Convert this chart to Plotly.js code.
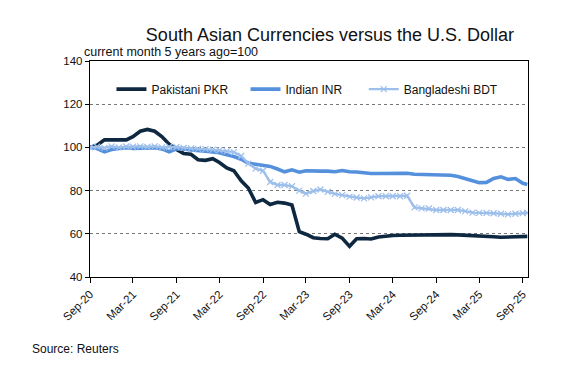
<!DOCTYPE html>
<html>
<head>
<meta charset="utf-8">
<script src="https://cdn.plot.ly/plotly-3.0.1.min.js"></script>
<style>html,body{margin:0;padding:0;background:#fff;}#chart{width:584px;height:378px;}</style>
</head>
<body>
<div id="chart"></div>
<script>
var dates = [
 '2020-09-01','2020-10-01','2020-11-01','2020-12-01',
 '2021-01-01','2021-02-01','2021-03-01','2021-04-01','2021-05-01','2021-06-01','2021-07-01','2021-08-01','2021-09-01','2021-10-01','2021-11-01','2021-12-01',
 '2022-01-01','2022-02-01','2022-03-01','2022-04-01','2022-05-01','2022-06-01','2022-07-01','2022-08-01','2022-09-01','2022-10-01','2022-11-01','2022-12-01',
 '2023-01-01','2023-02-01','2023-03-01','2023-04-01','2023-05-01','2023-06-01','2023-07-01','2023-08-01','2023-09-01','2023-10-01','2023-11-01','2023-12-01',
 '2024-01-01','2024-02-01','2024-03-01','2024-04-01','2024-05-01','2024-06-01','2024-07-01','2024-08-01','2024-09-01','2024-10-01','2024-11-01','2024-12-01',
 '2025-01-01','2025-02-01','2025-03-01','2025-04-01','2025-05-01','2025-06-01','2025-07-01','2025-08-01','2025-09-01','2025-09-20'
];
var pkr = [100,101,103.5,103.5,103.5,103.5,105,107.5,108.3,107.5,105,101.5,99,97.2,96.8,94.3,
 94,94.8,93,90.5,89.2,84.5,81.2,74.5,75.8,73.6,74.6,74.2,73.3,61,59.8,58.2,
 57.8,57.7,59.8,58,54.2,57.7,57.8,57.6,58.5,59,59.2,59.3,59.4,59.4,59.5,59.5,
 59.5,59.6,59.6,59.5,59.4,59.2,59,58.8,58.6,58.4,58.4,58.5,58.8,58.8];
var inr = [100,99.5,98,99,99.5,99.8,99.5,99.6,99.5,99.8,99.3,98,99.3,99.3,98.8,98.7,
 98.2,97.9,97.5,96.6,95.8,94.5,92.7,92.2,91.7,91.2,90,88.7,89.6,88.5,89.2,89.3,
 89,89,88.7,89.3,88.7,88.6,88.1,87.9,87.9,87.9,88,88.2,88,87.6,87.5,87.4,
 87.3,87.2,87.1,86.5,85.7,84.6,83.7,83.8,85.6,86.4,85.2,85.6,83.4,82.8];
var bdt = [100,100.3,99.8,100.5,100,100.4,100.3,100.5,100.2,100.5,100,100.3,100.2,99.8,99.5,99.3,
 99.2,99,98.7,98.3,97.8,96,92.5,90.2,89.2,84,82.6,82.6,82,80,78.6,79.8,
 80.5,79.4,78.5,77.9,77.2,76.8,76.4,76.9,77.4,77.4,77.4,77.4,77.6,72.2,71.8,71.7,
 71,71,71,71,70.5,69.8,69.7,69.7,69.5,69.3,69,69.3,69.6,69.7];
var names = ['Pakistani PKR','Indian INR','Bangladeshi BDT'];
var yTicks = [40,60,80,100,120,140];

var font = 'Liberation Sans, Arial, sans-serif';
var traces = [
 {x:dates,y:pkr,name:names[0],type:'scatter',mode:'lines',line:{color:'#0e2841',width:3.6,shape:'linear'},legend:'legend'},
 {x:dates,y:inr,name:names[1],type:'scatter',mode:'lines',line:{color:'#5590dc',width:3.6},legend:'legend2'},
 {x:dates,y:bdt,name:names[2],type:'scatter',mode:'lines+markers',line:{color:'#9dbfeb',width:2.4},
  marker:{symbol:'x-thin',size:6,line:{color:'#9dbfeb',width:1.2}},legend:'legend3'}
];
var legBase = {orientation:'h',xanchor:'left',yanchor:'middle',y:0.87,bgcolor:'rgba(0,0,0,0)',
  font:{family:font,size:12,color:'#111'},itemwidth:30};
var layout = {
 width:584,height:378,
 margin:{l:90,r:56,t:61,b:101},
 paper_bgcolor:'#fff',plot_bgcolor:'#fff',
 font:{family:font,color:'#111'},
 title:{text:'South Asian Currencies versus the U.S. Dollar',font:{family:font,size:18,color:'#111'},
   x:0.565,xanchor:'center',xref:'container',y:0.907,yanchor:'middle',yref:'container'},
 showlegend:true,
 legend:Object.assign({},legBase,{x:0.049}),
 legend2:Object.assign({},legBase,{x:0.355}),
 legend3:Object.assign({},legBase,{x:0.625}),
 xaxis:{type:'date',range:['2020-09-01','2025-09-23'],tick0:'2020-09-01',dtick:'M6',tickformat:'%b-%y',
   tickangle:-45,ticks:'outside',ticklen:5,tickcolor:'#000',showgrid:false,
   showline:true,linecolor:'#000',linewidth:1.2,mirror:true,zeroline:false,
   tickfont:{family:font,size:11.5,color:'#111'}},
 yaxis:{range:[40,140],tickvals:yTicks,ticks:'outside',ticklen:4,tickcolor:'#000',
   showgrid:true,gridcolor:'#777',griddash:'dot',gridwidth:1,
   showline:true,linecolor:'#000',linewidth:1.2,mirror:true,zeroline:false,
   tickfont:{family:font,size:11.5,color:'#111'}},
 annotations:[
  {text:'current month 5 years ago=100',xref:'paper',yref:'paper',x:-0.018,y:1.04,xanchor:'left',yanchor:'middle',
   showarrow:false,font:{family:font,size:12.5,color:'#111'}},
  {text:'Source: Reuters',xref:'paper',yref:'paper',x:-0.137,y:-0.333,xanchor:'left',yanchor:'middle',
   showarrow:false,font:{family:font,size:12,color:'#111'}}
 ]
};
Plotly.newPlot('chart',traces,layout,{displayModeBar:false,staticPlot:true});
</script>
</body>
</html>
